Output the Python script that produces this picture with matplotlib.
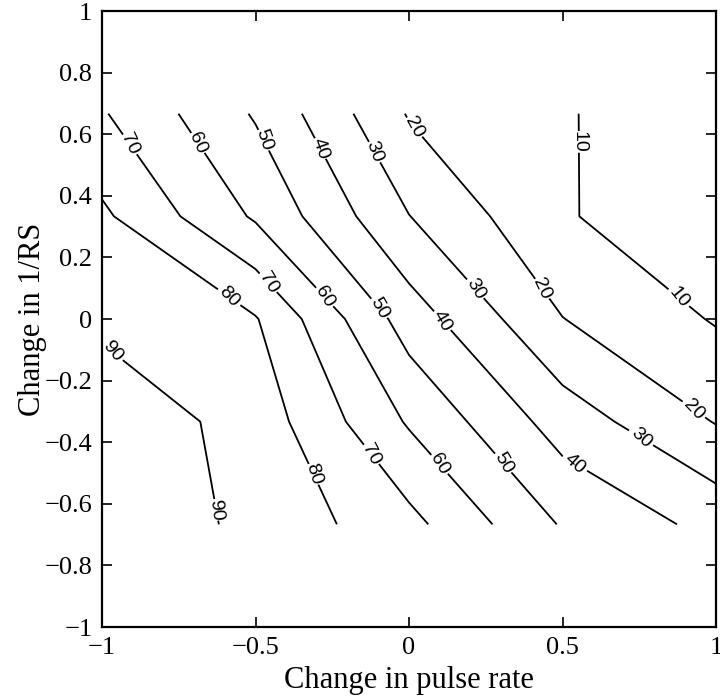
import numpy as np
import matplotlib
matplotlib.use('Agg')
import matplotlib.pyplot as plt

# grid of the surface (pulse rate change along x, 1/RS change along y)
pulse_rate = [-1.0, -0.5, 0.0, 0.5, 1.0]
inv_rs = [2/3, 1/3, 0.0, -1/3, -2/3]
z_rows = [
    [70.9, 49.0, 19.2, 11.0, 1.5],
    [81.8, 58.7, 30.2, 10.9, 2.7],
    [87.7, 80.7, 45.2, 20.2, 9.2],
    [97.3, 85.9, 58.9, 35.4, 19.5],
    [96.7, 87.9, 73.0, 49.1, 36.9],
]
levels = [10, 20, 30, 40, 50, 60, 70, 80, 90]

# where the inline labels sit
label_xy = [(-0.915, 0.565), (-0.69, 0.571), (-0.476, 0.58), (-0.283, 0.555),
            (-0.12, 0.54), (0.01, 0.62), (0.55, 0.575),
            (-0.59, 0.068), (-0.46, 0.117), (-0.283, 0.068), (-0.11, 0.03),
            (0.09, -0.013), (0.264, 0.117), (0.42, 0.094), (0.866, 0.062),
            (-0.967, -0.107), (-0.632, -0.62), (-0.32, -0.506), (-0.124, -0.44),
            (0.094, -0.474), (0.306, -0.468), (0.534, -0.474), (0.746, -0.393),
            (0.915, -0.302)]

xticks = [-1, -0.5, 0, 0.5, 1]
yticks = [-1, -0.8, -0.6, -0.4, -0.2, 0, 0.2, 0.4, 0.6, 0.8, 1]


def tick_text(v):
    s = '%g' % v
    return s.replace('-', '\u2212')


X, Y = np.meshgrid(pulse_rate, inv_rs)
Z = np.array(z_rows)

fig = plt.figure(figsize=(7.2, 6.98), dpi=100)
ax = fig.add_axes([102/720, 1 - 627/698, 614/720, 616/698])

cs = ax.contour(X, Y, Z, levels=levels, colors='k', linewidths=1.3)
txts = ax.clabel(cs, manual=label_xy, inline=True, fmt='%d', fontsize=14,
                 inline_spacing=4)
for t in txts:
    t.set_family('Liberation Sans')

ax.set_xlim(-1, 1)
ax.set_ylim(-1, 1)
ax.set_xticks(xticks)
ax.set_xticklabels([tick_text(v) for v in xticks])
ax.set_yticks(yticks)
ax.set_yticklabels([tick_text(v) for v in yticks])
ax.tick_params(direction='in', top=True, right=True, length=7, width=1.2,
               labelsize=19, pad=7)
for lab in ax.get_xticklabels() + ax.get_yticklabels():
    lab.set_family('Liberation Serif')
for sp in ax.spines.values():
    sp.set_linewidth(1.6)

ax.set_xlabel('Change in pulse rate', family='Liberation Serif', fontsize=22,
              labelpad=5)
ax.set_ylabel('Change in 1/RS', family='Liberation Serif', fontsize=22,
              labelpad=-2)

fig.savefig('out.png', dpi=100)
